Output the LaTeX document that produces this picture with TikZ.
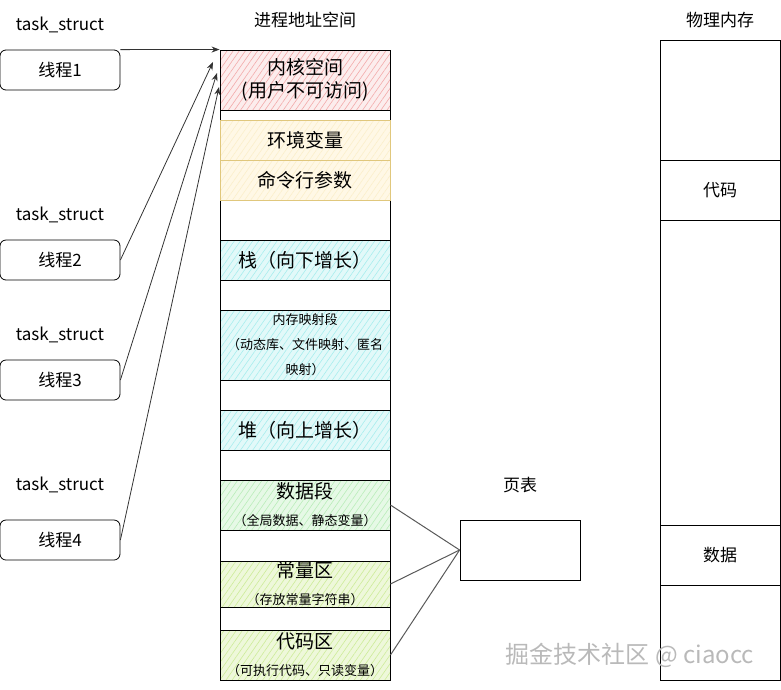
\documentclass[tikz,border=0pt]{standalone}
\usepackage{fontspec}
\setmainfont{Noto Sans CJK SC}
\usetikzlibrary{arrows.meta,patterns.meta}
\definecolor{kernFill}{HTML}{FCEDED}
\definecolor{kernLine}{HTML}{F3AAAA}
\definecolor{envFill}{HTML}{FFF8E6}
\definecolor{envLine}{HTML}{FBEFCB}
\definecolor{envDraw}{HTML}{E0C77C}
\definecolor{cyanFill}{HTML}{E2F9F9}
\definecolor{cyanLine}{HTML}{A8EEEE}
\definecolor{dataFill}{HTML}{E6F9E6}
\definecolor{dataLine}{HTML}{B9EDB9}
\definecolor{codeFill}{HTML}{EEF8DA}
\definecolor{codeLine}{HTML}{CDEC99}
\definecolor{edgeGray}{HTML}{333333}
\newcommand{\txtsize}[2]{\fontsize{#1}{#2}\selectfont}

\begin{document}
\begin{tikzpicture}[x=1pt, y=-1pt,
    titletext/.style={font=\txtsize{17}{20}},
    thread/.style={draw, line width=0.8pt, rounded corners=6pt, minimum width=120pt,
      minimum height=40pt, inner sep=0pt, font=\txtsize{17}{20}},
    seg/.style={line width=0.9pt, minimum width=170pt, inner sep=0pt, align=center},
    hatch/.style n args={3}{fill=#1, postaction={pattern={Lines[angle=55,distance=5pt,line width=0.6pt]},
      pattern color=#2}, postaction={draw=#3, line width=0.9pt}},
    cell/.style={draw, line width=0.8pt, minimum width=120pt, inner sep=0pt, font=\txtsize{17}{20}},
    link/.style={edgeGray, line width=0.8pt, -{Stealth[length=8pt,width=6pt]}},
    map/.style={gray!70!black, line width=1pt}]
    \useasboundingbox (0,0) rectangle (781,689);
    % Threads
    \node[titletext] (ts1) at (60,25) {task\_struct};
    \node[thread] (t1) at (60,70) {线程1};
    \node[titletext] (ts2) at (60,215) {task\_struct};
    \node[thread] (t2) at (60,260) {线程2};
    \node[titletext] (ts3) at (60,335) {task\_struct};
    \node[thread] (t3) at (60,380) {线程3};
    \node[titletext] (ts4) at (60,485) {task\_struct};
    \node[thread] (t4) at (60,540) {线程4};
    % Address space
    \node[titletext] (vastitle) at (305,20) {进程地址空间};
    \node[draw, line width=1pt, minimum width=170pt, minimum height=630pt, inner sep=0pt] (vas) at (305,365) {};
    \node[seg, hatch={kernFill}{kernLine}{black}, minimum height=60pt, font=\txtsize{19}{23}] (kern) at (305,80) {内核空间\\(用户不可访问)};
    \node[seg, hatch={envFill}{envLine}{envDraw}, minimum height=40pt, font=\txtsize{19}{23}] (env) at (305,140) {环境变量};
    \node[seg, hatch={envFill}{envLine}{envDraw}, minimum height=40pt, font=\txtsize{19}{23}] (args) at (305,180) {命令行参数};
    \node[seg, hatch={cyanFill}{cyanLine}{black}, minimum height=40pt, font=\txtsize{19}{23}] (stack) at (305,260) {栈（向下增长）};
    \node[seg, hatch={cyanFill}{cyanLine}{black}, minimum height=70pt, font=\txtsize{13}{25}] (mmap) at (305,345) {内存映射段\\（动态库、文件映射、匿名\\映射）};
    \node[seg, hatch={cyanFill}{cyanLine}{black}, minimum height=40pt, font=\txtsize{19}{23}] (heap) at (305,430) {堆（向上增长）};
    \node[seg, hatch={dataFill}{dataLine}{black}, minimum height=50pt, font=\txtsize{13}{27}] (data) at (305,505) {{\txtsize{19}{23}数据段}\\（全局数据、静态变量）};
    \node[seg, hatch={codeFill}{codeLine}{black}, minimum height=46pt, font=\txtsize{13}{27}] (const) at (305,584) {{\txtsize{19}{23}常量区}\\（存放常量字符串）};
    \node[seg, hatch={codeFill}{codeLine}{black}, minimum height=50pt, font=\txtsize{13}{27}] (code) at (305,655) {{\txtsize{19}{23}代码区}\\（可执行代码、只读变量）};
    % Thread pointers
    \coordinate (k2) at (213,62);
    \coordinate (k3) at (217,73);
    \coordinate (k4) at (219,87);
    \draw[link] (t1.north east) -- (kern.north west);
    \draw[link] (t2.east) -- (k2);
    \draw[link] (t3.east) -- (k3);
    \draw[link] (t4.east) -- (k4);
    % Page table
    \node[titletext] (pttitle) at (520,485) {页表};
    \node[draw, line width=0.8pt, minimum width=120pt, minimum height=60pt, inner sep=0pt] (pt) at (520,550) {};
    \draw[map] (data.east) -- (pt.west);
    \draw[map] (const.east) -- (pt.west);
    \draw[map] (code.east) -- (pt.west);
    % Physical memory
    \node[titletext] (pmtitle) at (720,20) {物理内存};
    \node[cell, minimum height=120pt] (pmtop) at (720,100) {};
    \node[cell, minimum height=60pt] (pmcode) at (720,190) {代码};
    \node[cell, minimum height=305pt] (pmmid) at (720,372.5) {};
    \node[cell, minimum height=60pt] (pmdata) at (720,555) {数据};
    \node[cell, minimum height=95pt] (pmbot) at (720,632.5) {};
    % Watermark
    \node[text=gray!55, font=\txtsize{24}{28}] (mark) at (630,655) {掘金技术社区 @ ciaocc};
\end{tikzpicture}
\end{document}
